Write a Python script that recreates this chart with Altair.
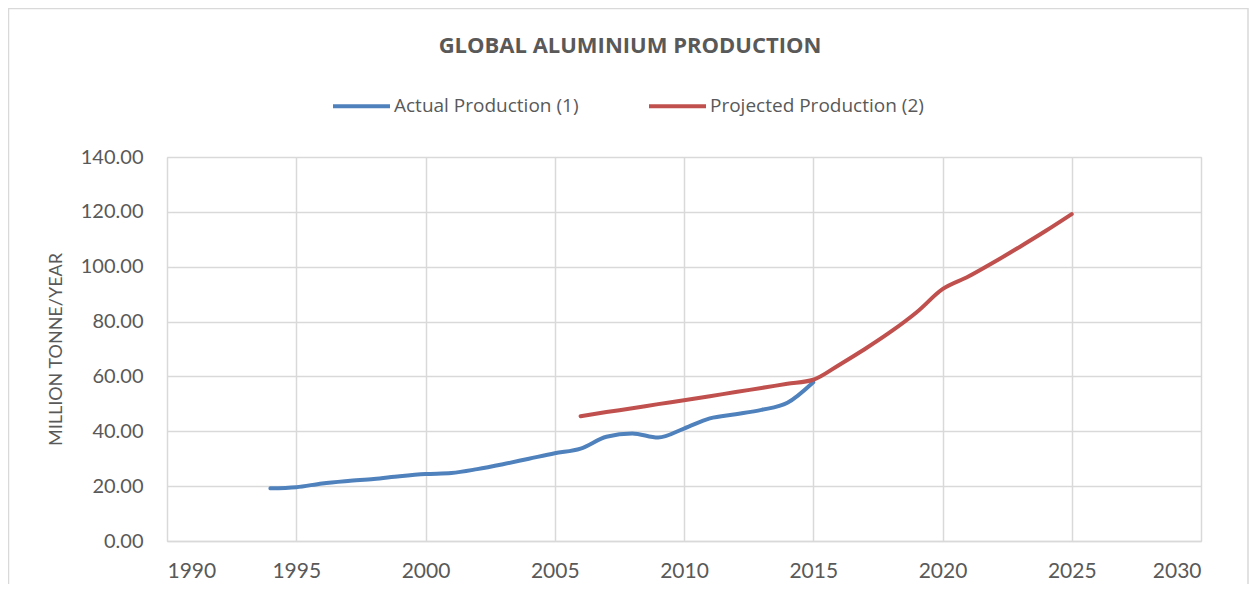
import altair as alt
import pandas as pd

actual_name = "Actual Production (1)"
projected_name = "Projected Production (2)"

actual_years = list(range(1994, 2016))
actual_values = [19.2, 19.6, 21.0, 21.9, 22.6, 23.6, 24.4, 24.8, 26.2, 28.0, 30.0,
                 32.0, 33.7, 38.0, 39.2, 37.7, 41.0, 44.7, 46.2, 47.8, 50.4, 57.9]

projected_years = list(range(2006, 2026))
projected_values = [45.5, 47.0, 48.4, 49.9, 51.3, 52.8, 54.3, 55.8, 57.3, 58.8,
                    64.2, 70.0, 76.3, 83.4, 91.8, 96.4, 101.7, 107.3, 113.1, 119.2]

x_ticks = [1990, 1995, 2000, 2005, 2010, 2015, 2020, 2025, 2030]
y_ticks = [0, 20, 40, 60, 80, 100, 120, 140]

df = pd.concat([
    pd.DataFrame({"year": actual_years, "value": actual_values, "series": actual_name}),
    pd.DataFrame({"year": projected_years, "value": projected_values, "series": projected_name}),
])

TEXT = "#595959"
GRID = "#d9d9d9"
W, H = 1034, 384

lines = alt.Chart(df).mark_line(strokeWidth=4, interpolate="monotone", strokeCap="round").encode(
    x=alt.X("year:Q",
            scale=alt.Scale(domain=[1990, 2030], nice=False, zero=False),
            axis=alt.Axis(values=x_ticks, format="d", title=None, grid=True,
                          gridColor=GRID, gridWidth=1.5, domainColor=GRID, domainWidth=1.5,
                          ticks=False, labelFontSize=21, labelColor=TEXT, labelPadding=19,
                          labelFont="Lato")),
    y=alt.Y("value:Q",
            scale=alt.Scale(domain=[0, 140], nice=False),
            axis=alt.Axis(values=y_ticks, format=".2f", title="MILLION TONNE/YEAR",
                          grid=True, gridColor=GRID, gridWidth=1.5, domain=False,
                          ticks=False, labelFontSize=20, labelColor=TEXT, labelPadding=24,
                          labelFont="Lato", titleFont="Lato", titleFontSize=18,
                          titleFontWeight="normal", titleColor=TEXT,
                          titleX=-106, titleY=H / 2, titleBaseline="alphabetic",
                          titleAngle=-90)),
    color=alt.Color("series:N",
                    scale=alt.Scale(domain=[actual_name, projected_name],
                                    range=["#4f81bd", "#c0504d"]),
                    legend=alt.Legend(title=None, orient="none", direction="horizontal",
                                      legendX=164, legendY=-81.5,
                                      symbolType="stroke", symbolSize=3249,
                                      symbolStrokeWidth=4, labelOffset=2,
                                      columnPadding=62, labelFontSize=19, labelLimit=0,
                                      labelFont="Open Sans", labelColor=TEXT)),
)

border = alt.Chart(alt.Data(values=[{}])).mark_rect(
    fill=None, stroke=GRID, strokeWidth=1.5
).encode(
    x=alt.value(-158.5), x2=alt.value(1081), y=alt.value(-148.5), y2=alt.value(460)
)

chart = alt.layer(border, lines).properties(
    width=W, height=H,
    padding={"left": 159, "top": 149, "right": 48, "bottom": 43},
    autosize=alt.AutoSizeParams(type="none"),
    title=alt.Title("GLOBAL ALUMINIUM PRODUCTION", anchor="middle", frame="group",
                    dx=-54, dy=70, offset=20, font="Open Sans", fontSize=22,
                    fontWeight="bold", color=TEXT),
).configure_view(stroke=None).configure(background="white")

chart.save("out.html", embed_options={"renderer": "svg", "actions": False})
